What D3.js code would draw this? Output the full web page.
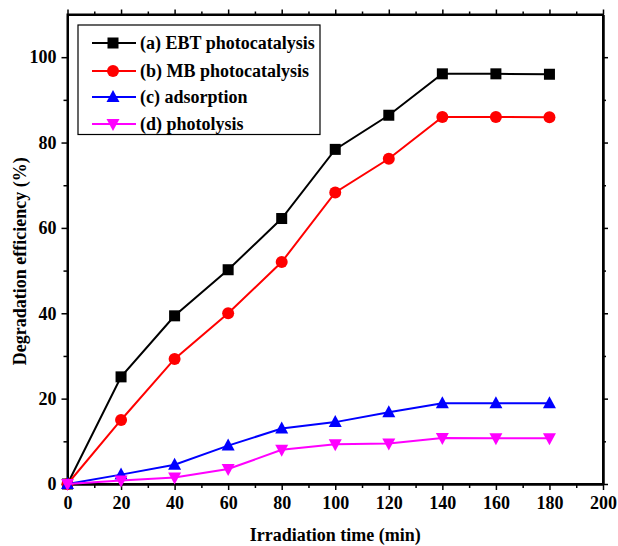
<!DOCTYPE html>
<html>
<head>
<meta charset="utf-8">
<script src="https://cdn.jsdelivr.net/npm/d3@7"></script>
<style>
body { margin: 0; background: #fff; }
svg text { font-family: "Liberation Serif", "Times New Roman", serif; font-weight: bold; }
</style>
</head>
<body>
<svg width="618" height="546"></svg>
<script>
// data
var times = [0, 20, 40, 60, 80, 100, 120, 140, 160, 180];
var ebtPhoto = [0, 25.1, 39.4, 50.2, 62.2, 78.4, 86.4, 96.1, 96.1, 96.0];
var mbPhoto = [0, 15.0, 29.3, 40.0, 52.0, 68.3, 76.2, 86.0, 86.0, 85.9];
var adsorption = [0, 2.2, 4.5, 9.0, 13.0, 14.5, 16.8, 18.9, 18.9, 18.9];
var photolysis = [0, 0.8, 1.5, 3.5, 8.0, 9.3, 9.5, 10.8, 10.7, 10.7];
var seriesNames = ['(a) EBT photocatalysis', '(b) MB photocatalysis', '(c) adsorption', '(d) photolysis'];
var xTicks = [0, 20, 40, 60, 80, 100, 120, 140, 160, 180, 200];
var yTicks = [0, 20, 40, 60, 80, 100];

var series = [
    {name: seriesNames[0], values: ebtPhoto, color: '#000000', symbol: 'square'},
    {name: seriesNames[1], values: mbPhoto, color: '#ff0000', symbol: 'circle'},
    {name: seriesNames[2], values: adsorption, color: '#0000ff', symbol: 'up'},
    {name: seriesNames[3], values: photolysis, color: '#ff00ff', symbol: 'down'}
];

var svg = d3.select('svg');
var plot = {l: 67.5, r: 603, t: 14.5, b: 484};

var x = d3.scaleLinear().domain([0, 200]).range([plot.l, plot.r]);
var y = d3.scaleLinear().domain([0, 110]).range([plot.b, plot.t]);

// draw a marker of given type centred at 0,0
function drawMarker(g, type, color) {
    if (type === 'square') {
        g.append('rect').attr('x', -5.5).attr('y', -5.5).attr('width', 11).attr('height', 11).attr('fill', color);
    } else if (type === 'circle') {
        g.append('circle').attr('r', 6).attr('fill', color);
    } else if (type === 'up') {
        g.append('path').attr('d', 'M0,-7 L6.5,5 L-6.5,5 Z').attr('fill', color);
    } else {
        g.append('path').attr('d', 'M0,7 L6.5,-5 L-6.5,-5 Z').attr('fill', color);
    }
}

// axes
var xMinor = d3.range(10, 200, 20);
var yMinor = d3.range(10, 110, 20);

var bottom = svg.append('g').attr('transform', 'translate(0,' + plot.b + ')')
    .call(d3.axisBottom(x).tickValues(xTicks).tickSize(6).tickSizeOuter(0).tickPadding(6));
svg.append('g').attr('transform', 'translate(0,' + plot.b + ')')
    .call(d3.axisBottom(x).tickValues(xMinor).tickSize(4).tickSizeOuter(0).tickFormat(''));
var left = svg.append('g').attr('transform', 'translate(' + plot.l + ',0)')
    .call(d3.axisLeft(y).tickValues(yTicks).tickSize(6).tickSizeOuter(0).tickPadding(5));
svg.append('g').attr('transform', 'translate(' + plot.l + ',0)')
    .call(d3.axisLeft(y).tickValues(yMinor).tickSize(4).tickSizeOuter(0).tickFormat(''));
svg.append('g').attr('transform', 'translate(0,' + plot.t + ')')
    .call(d3.axisTop(x).tickValues(xTicks).tickSize(5).tickSizeOuter(0).tickFormat(''));
svg.append('g').attr('transform', 'translate(0,' + plot.t + ')')
    .call(d3.axisTop(x).tickValues(xMinor).tickSize(3).tickSizeOuter(0).tickFormat(''));
svg.append('g').attr('transform', 'translate(' + plot.r + ',0)')
    .call(d3.axisRight(y).tickValues(yTicks).tickSize(5).tickSizeOuter(0).tickFormat(''));
svg.append('g').attr('transform', 'translate(' + plot.r + ',0)')
    .call(d3.axisRight(y).tickValues(yMinor).tickSize(3).tickSizeOuter(0).tickFormat(''));

svg.selectAll('.domain').attr('stroke', '#000').attr('stroke-width', 2);
svg.selectAll('.tick line').attr('stroke', '#000').attr('stroke-width', 1.5);
svg.selectAll('.tick text').attr('font-size', 18).attr('font-family', '"Liberation Serif", serif')
    .attr('font-weight', 'bold').attr('fill', '#000');

// frame
svg.append('rect')
    .attr('x', plot.l).attr('y', plot.t)
    .attr('width', plot.r - plot.l).attr('height', plot.b - plot.t)
    .attr('fill', 'none').attr('stroke', '#000').attr('stroke-width', 2);

// axis titles
svg.append('text')
    .attr('x', (plot.l + plot.r) / 2).attr('y', 541)
    .attr('text-anchor', 'middle').attr('font-size', 18)
    .text('Irradiation time (min)');
svg.append('text')
    .attr('transform', 'translate(26,' + ((plot.t + plot.b) / 2 + 12) + ') rotate(-90)')
    .attr('text-anchor', 'middle').attr('font-size', 18)
    .text('Degradation efficiency (%)');

// lines and markers
var line = d3.line()
    .x(function(d, i) { return x(times[i]); })
    .y(function(d) { return y(d); });

series.forEach(function(s) {
    svg.append('path')
        .datum(s.values)
        .attr('d', line)
        .attr('fill', 'none')
        .attr('stroke', s.color)
        .attr('stroke-width', 2);
    s.values.forEach(function(v, i) {
        var g = svg.append('g').attr('transform', 'translate(' + [x(times[i]), y(v)] + ')');
        drawMarker(g, s.symbol, s.color);
    });
});

// legend
var legend = svg.append('g');
legend.append('rect')
    .attr('x', 78).attr('y', 25).attr('width', 242).attr('height', 109.5)
    .attr('fill', '#fff').attr('stroke', '#000').attr('stroke-width', 1.2);
var legendY = [43, 71, 97, 124];
series.forEach(function(s, i) {
    var row = legend.append('g').attr('transform', 'translate(0,' + legendY[i] + ')');
    row.append('line').attr('x1', 92).attr('x2', 136).attr('y1', 0).attr('y2', 0)
        .attr('stroke', s.color).attr('stroke-width', 2);
    var m = row.append('g').attr('transform', 'translate(113,0)');
    drawMarker(m, s.symbol, s.color);
    row.append('text').attr('x', 140).attr('y', 6)
        .attr('font-size', 18).text(s.name);
});
</script>
</body>
</html>
